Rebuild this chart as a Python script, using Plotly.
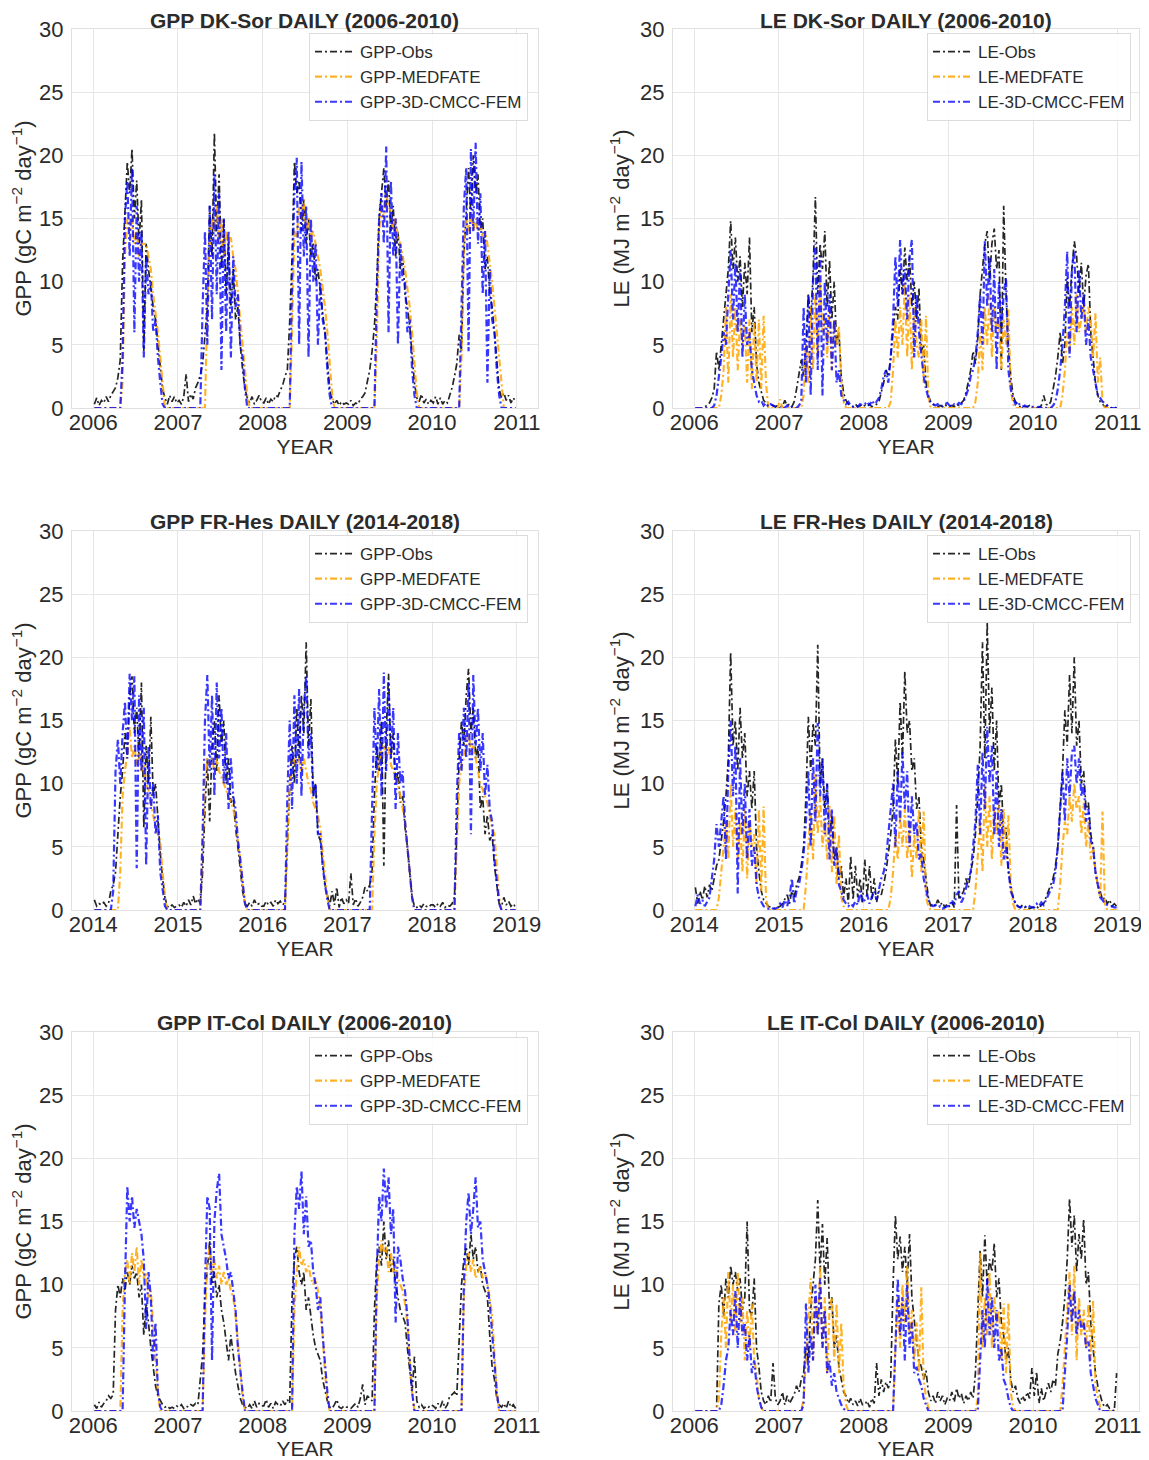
import plotly.graph_objects as go

# ---------------- DATA (10-day steps, 36 values per year) ----------------
YEARS_A = [2006, 2007, 2008, 2009, 2010, 2011]
YEARS_B = [2014, 2015, 2016, 2017, 2018, 2019]

gpp_dk_obs = [
    [0.3,0.8,0.2,0.6,0.4,0.9,0.5,1.0,1.3, 1.6,2.4,3.8, 11.5,16,19.5, 17,20.5,15, 18,13,16.5, 4.5,13,11, 9.5,8,7, 5,3.5,1.5, 0.8,0.3,1.0, 0.5,0.9,0.4],
    [0.6,0.3,0.9,2.7,0.5,1.1,0.7,1.6,2.0, 2.6,3.5,5.5, 8,16,12, 21.8,14,18.5, 11,15,9, 13,8,11, 7,8,5, 3,1.5,0.8, 0.4,0.9,0.3, 0.6,1.0,0.5],
    [0.4,0.8,0.3,0.7,0.5,1.0,0.9,1.4,1.8, 2.5,3.0,6.8, 12,19.5,17, 18,14,16.5, 13,15,12, 13,10,11, 9,7.5,6, 3.5,1.5,0.7, 0.3,0.6,0.2, 0.5,0.3,0.4],
    [0.3,0.6,0.2,0.4,0.3,0.7,0.9,1.2,2.0, 3.0,4.5,6.5, 10,15,17, 19,16,18, 14,16,12, 14,11,12, 9,8,6.5, 4,2,0.8, 0.5,1.1,0.4, 0.7,0.3,0.6],
    [0.4,0.9,0.3,0.8,0.3,0.6,0.4,1.0,1.6, 2.5,3.5,5.8, 4.5,12,16, 19,15,20, 17,18.5,14, 15,11,12, 9,8,6, 3.5,1.5,0.8, 1.2,0.6,1.0, 0.4,0.8,0.5],
]
gpp_dk_med = [
    [0,0,0,0,0,0,0,0,0,0,0,0, 2,12,15, 14,15,13, 14,12,13, 13,13,12, 11,9,7.5, 6,4,2, 0,0,0, 0,0,0],
    [0,0,0,0,0,0,0,0,0,0,0,0, 8,13,15, 14,16,13, 15,12,14, 13,13.5,12, 11,9,7.5, 5.5,3,1, 0,0,0, 0,0,0],
    [0,0,0,0,0,0,0,0,0,0,0,0, 6,14,13.5, 16,15,16.5, 14,15,13.5, 14,13,12, 11,9.5,8, 6,3.5,1.2, 0,0,0, 0,0,0],
    [0,0,0,0,0,0,0,0,0,0,0,0, 5,14,16, 15,17,16, 15.5,14,15, 13.5,13,12, 11,9.5,8, 6,3.5,1.2, 0,0,0, 0,0,0],
    [0,0,0,0,0,0,0,0,0,0,0,0, 4,13,15, 14,15.5,14, 15,14,14.5, 13.5,14,13, 11.5,10,8, 6,3.5,1.5, 0,0,0, 0,0,0],
]
gpp_dk_cmcc = [
    [0,0,0,0,0,0,0,0,0,0,0,0, 4,15,18, 12,19,6, 16,10,14, 4,12,9, 10,6,7, 4,2,0.3, 0,0,0, 0,0,0],
    [0,0,0,0,0,0,0,0,0,0,8,14, 5,16,7, 18.5,9,17, 3,15,6, 14,4,12, 8,9,5, 4,1.5,0, 0,0,0, 0,0,0],
    [0,0,0,0,0,0,0,0,0,0,0,0, 10,17,19.8, 5,19.5,12, 16,4,15, 10,13,5, 10,7,6, 3,1,0, 0,0,0, 0,0,0],
    [0,0,0,0,0,0,0,0,0,0,0,0, 9,15,17, 13,20.7,6, 18,12,15, 5,13,10, 10,6,7, 3,1,0, 0,0,0, 0,0,0],
    [0,0,0,0,0,0,0,0,0,0,0,0, 8,16,19, 4.5,20.5,14, 21,13,17, 9,14,2, 11,7,6, 3,1,0, 0,0,0, 0,0,0],
]

le_dk_obs = [
    [0,0,0,0,0.1,0.2, 0.4,0.8,1.5, 4.5,3,5, 7.5,9,11, 14.8,11,13.5, 10,12,8, 11.5,9,13.5, 6,8,3.5, 2,1.2,0.6, 0.4,0.2,0.3, 0.2,0.1,0.2],
    [0.2,0.1,0.6,0.2,0.3,0.1, 0.5,1.5,2.5, 3.8,2.5,5, 9,7,10.5, 16.7,9,13, 11,14,8, 11.7,7,10, 5,6,2.5, 1.2,0.6,0.3, 0.2,0.1,0.3, 0.1,0.2,0.1],
    [0.2,0.1,0.3,0.1,0.2,0.3, 0.5,1.2,2, 3,2.5,4, 6,8,7, 11,9,12.7, 10,12,8, 10,7,9.5, 4.5,5,2, 1,0.5,0.3, 0.2,0.1,0.2, 0.1,0.3,0.1],
    [0.1,0.2,0.1,0.3,0.2,0.4, 0.6,1.2,2, 3,4.5,3.5, 5.5,9,11, 13,14,10, 13,14.2,11, 12.5,3,16, 9,5,2.5, 1,0.5,0.3, 0.1,0.2,0.1, 0.1,0.2,0.1],
    [0,0.1,0,0.2,1,0.3, 0.2,0.5,1.5, 2.5,4,6, 3.5,5,10.3, 8,11,13.2, 12,9,11.5, 8,10.5,11.4, 6,4,2, 1,0.5,0.3, 0.1,0.2,0.1, 0,0.1,0],
]
le_dk_med = [
    [0,0,0,0,0,0,0,0,0,0,0,1, 3,8,2, 9,4,8, 3,7,5, 6.5,2,7, 1.5,6.8,2, 7,1.5,7.3, 2,0,0, 0,0,0],
    [0.7,0,0,0,0,0,0,0,0,0,1,5, 2,8,3, 9,4,10, 6,7,4, 8,3,7, 5,6.5,2, 0.5,0,0, 0,0,0, 0,0,0],
    [0,0,0,0,0,0,0,0,0,0,0,0.5, 3,7,4, 8,5,10, 4,9,3, 8,5,4, 7,2,7.3, 1,0,0, 0,0,0, 0,0,0],
    [0,0,0,0,0,0,0,0,0,0,0,0.5, 2,6,3, 8,5,9, 4,8,6, 7,3,7, 5,7.8,1.5, 0.3,0,0, 0,0,0, 0,0,0],
    [0,0,0,0,0,0,0,0,0,0,0,0, 1,3,6, 4.5,8,5, 9,6,7, 8.2,6,8, 7,4,7.5, 2,4,0.5, 0,0,0, 0,0,0],
]
le_dk_cmcc = [
    [0,0,0,0,0,0,0,0, 0.2, 1,2.5,4, 6,5,9, 12.5,7,11.5, 6,11,4, 9,5,6, 3,2,1, 0.5,0.6,0.2, 0.4,0.1,0.3, 0.2,0.1,0],
    [0,0.1,0,0.2,0,0.1,0,0, 0.2, 0.5,8,2, 9,1,10, 13,3,12, 1,10,5, 9,3,7, 2,3,1, 0.6,0.3,0.5, 0.2,0.1,0.2, 0.1,0.3,0.2],
    [0.3,0.5,0.2,0.6,0.3,0.5, 0.8,1.5,2.5, 3,2,4, 7,12,8, 13.3,9,11, 7,12,13.3, 4,9,6, 4,2.5,1.5, 0.8,0.4,0.3, 0.2,0.3,0.1, 0.2,0.3,0.4],
    [0.2,0.1,0.3,0.2,0.4,0.3, 0.5,1,1.5, 2.5,3,4, 6,9,5, 13.2,8,12, 6,11,3, 10,6,9, 10.3,3,1.5, 0.8,0.3,0.5, 0.2,0.1,0.2, 0.1,0.1,0.1],
    [0.1,0,0.1,0,0.1,0,0,0, 0.2, 0.5,1.5,3, 5,8,12.4, 4,11,12.5, 6,11,7, 9,5,7, 4,3,2, 1,0.8,0.5, 0.4,0.2,0, 0,0,0],
]

gpp_fr_obs = [
    [0.8,0.3,0.5,0.4,0.6,0.3, 0.5,1.5,2, 3,6,9, 11,14,12, 17,18.5,14, 16,12,18, 6.5,13,10, 15.3,9,10, 7,4.5,2.5, 1,0.3,0.2, 0.4,0.2,0.3],
    [0.4,0.2,0.6,0.3,0.8,0.4,1.1,0.5,0.9, 0.5,3,8, 12,7,13, 15,11,17, 13,15,10, 12,8.5,9, 6.5,5,3, 1.5,0.5,0.3, 0.6,0.3,0.8, 0.4,0.5,0.3],
    [0.3,0.7,0.4,0.6,0.3,0.8,0.5,0.7,0.4, 0.6,5,10, 13,10,16, 12,17,14, 21.2,13,16.7, 9,10,6, 5.5,3.5,2, 1.2,0.3,1.5, 0.4,1.8,0.2, 1.0,0.5,0.8],
    [0.5,2.9,0.4,0.9,0.3,0.6,1.0,1.8,1.5, 2,3,9, 13,11,15, 3.5,14,18.7, 12,14,10, 11,8.5,9, 6.5,5,3, 1,0.3,0.2, 0.4,0.2,0.5, 0.3,0.2,0.4],
    [0.4,0.2,0.5,0.3,0.6,0.2,0.4,0.3,0.5, 1,6,12, 15,13,17, 19.1,14,16, 12,13,8, 9,6,7.5, 5.5,6,3.5, 2,0.5,0.3, 1.0,0.4,0.7, 0.3,0.5,0.2],
]
gpp_fr_med = [
    [0,0,0,0,0,0,0,0,0,0,0,3, 9,11,12.5, 14.5,12,13, 11.5,12.5,11, 11.5,10,9.5, 8.5,7.5,6.5, 6,5.5,3, 1,0,0, 0,0,0],
    [0,0,0,0,0,0,0,0,0,0,5,10, 12,11.5,12, 11,12,11, 10.5,10,9.5, 9,8.5,8, 7,5.5,4, 2,0.5,0, 0,0,0, 0,0,0],
    [0,0,0,0,0,0,0,0,0,0,5,10, 11,12,11.5, 12,11,12, 11,10,9.5, 8.5,8,7.5, 6.5,4.5,2.5, 1,0,0, 0,0,0, 0,0,0],
    [0,0,0,0,0,0,0,0,0,0,0,6, 10,11.5,12.5, 13,12,13, 11.5,11,10.5, 10,9,8, 7,5,3, 1,0,0, 0,0,0, 0,0,0],
    [0,0,0,0,0,0,0,0,0,0,5,10, 11.5,12,13, 14,12.5,13, 12,11,10, 9.5,9,8.5, 7.5,6.5,6, 3.5,1,0, 0,0,0, 0,0,0],
]
gpp_fr_cmcc = [
    [0,0,0,0,0,0,0,0,1.5,11,13.5,10, 14,16.5,12, 18.7,15,18.5, 3.3,17,11, 16,3.5,13, 8,10,6, 7.5,3,1.5, 0.3,0,0, 0,0,0],
    [0,0,0,0,0,0,0,0,0,0,6,15, 18.6,11,17, 9,18,12, 16,10,14, 8,12,9, 8,5.5,4, 2,0.5,0, 0,0,0, 0,0,0],
    [0,0,0,0,0,0,0,0,0,0,9,15, 8,17,10, 17.5,9,16, 18.5,12,14, 9,10,6, 6,3.5,2, 0.8,0,0, 0,0,0, 0,0,0],
    [0,0,0,0,0,0,0,0,0,0,8,16, 11,17.5,9, 18.8,11,18, 12,16,8, 14,10,11, 7,5,3, 1,0,0, 0,0,0, 0,0,0],
    [0,0,0,0,0,0,0,0,0,0,9,14, 11,16,12, 18,6,18.6, 13,16,11, 14,9,11.5, 8,7,4, 2,0.5,0, 0,0,0, 0,0,0],
]

le_fr_obs = [
    [1.8,0.5,1.5,0.8,1.9,1.0, 2,1.5,2.5, 3.5,4,5.5, 7,9,12, 20.4,13,15, 11,16,12, 14,9,11, 8,11,5, 3,1.5,0.8, 0.5,0.3,0.2, 0.2,0.1,0.2],
    [0.3,0.5,0.8,1.2,0.5,1.5, 1,2,2.5, 3.5,5,9, 15.3,11,14.8, 13,21,10, 12,8,10, 6,7.5,4, 5,2.5,3.5, 1,2.5,0.5, 4.3,0.8,3.5, 1,2.5,0.6],
    [4,1,3.5,0.8,2.5,0.6, 1.5,1.2,2, 3,4.5,6, 8,13.5,10, 16.5,12,18.9, 14,15,11, 12,8,9, 5,4,2.5, 1,0.3,0.5, 0.3,0.8,0.4, 0.6,0.2,0.5],
    [0.3,0.6,0.2,8.3,0.8,1.2, 1.5,2.5,1.8, 3,4,6, 9,13,21.2, 12,22.8,14, 17.6,11,15, 8,10,6, 6.5,3,2, 1,0.5,0.3, 0.2,0.4,0.2, 0.3,0.1,0.2],
    [0.2,0.3,0.1,0.4,0.5,1, 1.5,2,2.5, 3.5,5,8, 11,15.8,13, 18.6,14,20, 13,15,10, 11,8,8.5, 6,5,3, 2,1.5,0.8, 1.0,0.5,0.8, 0.3,0.5,0.3],
]
le_fr_med = [
    [0,0,0,0,0,0,0,0,0,0,1,3, 5,7,4, 10,5,8, 4,7,3, 8,2.5,7, 5,6,2, 8,1.5,8.2, 1,0,0, 0,0,0],
    [0,0,0,0,0,0,0,0,0,0,0,2, 5,8,4, 10.8,6,9, 5,7,4, 8.3,3,7.5, 2,6,1, 0.3,0,0, 0,0,0, 0,0,0],
    [0,0,0,0,0,0,0,0,0,0,0,1, 3,6,4, 7.5,5,8, 4,7,2.5, 6,4,8, 3,7.8,1, 0.3,0,0, 0,0,0, 0,0,0],
    [0,0,0,0,0,0,0,0,0,0,0,1.5, 4,7,3, 10,5,9, 4,8,6, 8.5,3.5,8, 4,7.5,2, 0.5,0,0, 0,0,0, 0,0,0],
    [0,0,0,0,0,0,0,0,0,0,0,2, 5,7,6, 9,7,10, 8,9,6, 8.5,5,7, 4,5,3, 2,1,7.8, 0.5,0,0, 0,0,0],
]
le_fr_cmcc = [
    [0.3,1.2,0.5,0.8,0.3,0.6, 1,2.5,4, 6.8,5,7, 9,4,11, 15,9,13, 1.3,12,6, 10,4,8, 3.5,5,2, 1,0.6,0.3, 0.2,0.1,0.2, 0.1,0.1,0.2],
    [0.5,0.2,0.8,0.3,1,2.5, 0.5,1.5,2, 3,4.5,7, 11,5,12, 7,14.8,9, 12,6,10, 4,8,3.5, 5,2,1.5, 0.8,0.5,0.3, 0.5,0.3,0.7, 0.4,1.5,0.6],
    [0.8,1.2,0.5,1.0,1.5,0.8, 1.8,2.5,3, 4,6,8, 10,5,11, 7,12.5,8, 11,5,9, 6,7,4, 4.5,2.5,1.5, 0.8,0.5,0.3, 0.4,0.2,0.3, 0.1,0.2,0.3],
    [0.3,0.8,0.4,1.2,1.5,0.6, 1.0,1.8,2.5, 3,5,7, 11.5,6,12.5, 8,14.5,10, 13,6,11, 5,8,4, 5,3,1.5, 1,0.5,0.3, 0.2,0.3,0.2, 0.4,0.3,0.2],
    [0.2,0.5,0.3,0.6,0.4,0.8, 1.2,1.5,2, 3,5,8, 11,7,12, 9,12.5,13, 10,12,9, 10,7,8, 5.5,5,3, 2,1,0.8, 0.5,0.4,0.3, 0.3,0.2,0.2],
]

gpp_it_obs = [
    [0.5,0.2,0.7,0.3,0.6,0.8, 1.2,1.0,1.3, 8,10,9, 10.5,9.5,11, 10,11.5,10.5, 11,9,10, 6,8.5,7, 5,3.5,2, 1.2,0.8,0.5, 0.3,0.4,0.2, 0.3,0.2,0.4],
    [0.3,0.5,0.2,0.4,0.3,0.5, 0.4,0.6,0.5, 2.5,4.5,9, 11,13.5,10, 11,9,10, 8,7,5.5, 4,6,4.5, 3,2,1, 0.5,0.3,0.2, 0.5,0.2,0.8, 0.3,0.6,0.4],
    [0.4,0.9,0.3,0.6,0.2,0.7, 0.5,0.4,0.8, 0.5,0.9,0.6, 9,12,13, 11,10,11, 8,9,7.5, 6,5,4.5, 4,2.5,1.5, 0.8,0.3,0.2, 0.5,0.9,0.3, 0.2,0.4,0.3],
    [0.3,0.2,0.4,0.6,0.3,1.0, 2.1,0.5,1.2, 1.0,0.8,8, 12,13,11.5, 15,12,13.5, 11,12,10, 9,8,7.5, 7,5,3, 1.5,4.3,0.8, 0.3,0.5,0.2, 0.4,0.3,0.5],
    [0.4,0.2,0.6,0.3,0.8,0.2, 0.5,1.2,1.3, 1.5,1.2,6, 10,12,13, 11.5,14,12, 13,11,11.5, 10,9.5,9, 6,3.5,2.5, 1,0.5,0.3, 0.6,0.2,0.8, 0.3,0.5,0.2],
]
gpp_it_med = [
    [0,0,0,0,0,0,0,0,0,0,0,0, 8,11,12, 10,12.5,11, 13,10,12, 10.5,11,9, 9.5,7,4, 1.5,0,0, 0,0,0, 0,0,0],
    [0,0,0,0,0,0,0,0,0,0,0,7, 12,13,11, 12,10.5,11.5, 10,11,10, 10.5,9.5,9, 7.5,5.5,3, 1,0,0, 0,0,0, 0,0,0],
    [0,0,0,0,0,0,0,0,0,0,0,0, 0,8,11, 13,11.5,12, 11,11.5,10.5, 10,10.5,9.5, 8,6,3, 1,0,0, 0,0,0, 0,0,0],
    [0,0,0,0,0,0,0,0,0,0,0,0, 9,12,13.5, 12.5,13,11, 12.5,11,11.5, 10.5,10,9.5, 8.5,7,4, 1.5,0,0, 0,0,0, 0,0,0],
    [0,0,0,0,0,0,0,0,0,0,0,0, 0,9,11.5, 12.5,11,12, 10.5,11,11.5, 10.5,11,10, 9,7.5,4, 1.5,0,0, 0,0,0, 0,0,0],
]
gpp_it_cmcc = [
    [0,0,0,0,0,0,0,0,0,0,0,0, 0,10,17.8, 15,17,14.5, 16,15,14, 12,6.5,11, 9,4,7, 1.5,0.3,0, 0,0,0, 0,0,0],
    [0,0,0,0,0,0,0,0,0,0,0,10, 17,16,4, 15,17.5,18.8, 14,13,12, 10.5,11,9.5, 8,5,3, 1.5,0,0, 0,0,0, 0,0,0],
    [0,0,0,0,0,0,0,0,0,0,0,0, 0,14,17.8, 16,19,14, 17,13,13.5, 11,10,8, 9,6,3.5, 1.5,0,0, 0,0,0, 0,0,0],
    [0,0,0,0,0,0,0,0,0,0,0,0, 11,17,15, 19.2,16,18.5, 14,16,7, 13,12,10.5, 9.5,7.5,4, 1.5,0,0, 0,0,0, 0,0,0],
    [0,0,0,0,0,0,0,0,0,0,0,0, 0,10,15, 17.3,14,16, 18.5,14.5,15, 12,11,10, 8.5,6,4, 1.5,0,0, 0,0,0, 0,0,0],
]

le_it_obs = [
    [0,0,0,0,0,0, 0,0,0, 0,8.5,10, 7.5,10.5,9, 11.5,10,11, 9.5,10.5,8, 9,15,8, 7.5,10.5,5, 3.5,1.5,0.8, 0.5,1.2,0.7, 3.8,1.0,0.5],
    [0.8,1.5,0.5,1.2,0.6,1.0, 1.3,2,1.5, 2.5,3,5, 4,8,10, 12,16.7,11, 14.8,10,13.7, 8,9,5, 6,3.5,2.5, 1.5,1.2,0.6, 1.0,0.5,0.8, 0.4,1.0,0.5],
    [0.5,0.8,0.3,1.0,0.6,3.8, 1.2,2.5,1.5, 2.3,1.8,2.5, 10,15.5,12, 13.8,11,13, 10,14,9, 7,5.5,4, 3.5,2.5,3.2, 1.5,0.8,1.2, 0.6,1.5,0.8, 1.2,0.5,1.0],
    [0.8,1.5,0.7,1.8,1.0,1.4, 0.6,1.2,0.8, 1.5,1.0,3, 8,12.7,9, 13.9,10,12, 11,13.3,9, 10.5,7,6, 4,5,2.5, 1.5,2,1, 0.6,1.2,0.8, 1.5,1.0,3.4],
    [1.2,3.1,0.6,1.8,0.8,1.5, 2.2,1.5,2.5, 2,4.5,5.5, 7,9,12, 16.8,13,15.5, 11,14,12, 15.2,10,11, 7,5,3, 2,1.2,0.6, 0.3,0.5,0.2, 0.1,0,3.0],
]
le_it_med = [
    [0,0,0,0,0,0,0,0,0,0,1,6, 9,5,11, 7,10,6, 11,7,9, 4,8,5, 8.5,4,3, 1,0.3,0, 0,0,0, 0,0,0],
    [0,0,0,0,0,0,0,0,0,0,1,4, 7,10.5,4, 9,6,11.5, 5,9,3, 8,9,4, 8.5,3,7, 2,0.5,0, 0,0,0, 0,0,0],
    [0,0,0,0,0,0,0,0,0,0,0,0, 0,5,9, 5,10,7, 11.5,6,8, 4,7,3, 9.8,2.5,1, 0.3,0,0, 0,0,0, 0,0,0],
    [0,0,0,0,0,0,0,0,0,0,0,0, 1,12.5,5, 9,6,11, 5,9,7, 8,4,8.5, 3,8.5,1.5, 0.3,0,0, 0,0,0, 0,0,0],
    [0,0,0,0,0,0,0,0,0,0,0,0, 2,5,8, 11,6,11.5, 4,9,6, 8,5,8.5, 4,8.7,2, 1,0.3,0, 0,0,0, 0,0,0],
]
le_it_cmcc = [
    [0,0,0,0,0,0,0,0,0,0,0,0.5, 2,4,5, 8,6,9.5, 5,9,6, 7,4,6, 3,4,2, 1,0.3,0, 0,0,0, 0,0,0],
    [0,0,0,0,0,0,0,0,0,0,0.5,8.5, 3,6,4, 10,6,10.5, 5,8,3, 4,2,3, 1.5,1,0.5, 0.2,0,0, 0,0,0, 0,0,0],
    [0,0,0,0,0,0,0,0,0,0,0,0, 0,5,10.5, 6,9,4, 10,5,7, 3,3.5,2.5, 2,1,0.5, 0,0,0, 0,0,0, 0,0,0],
    [0,0,0,0,0,0,0,0,0,0,0,0, 0,4,8, 5,10.5,6, 9,5,8, 4,5,2.5, 2,1,0.3, 0,0,0, 0,0,0, 0,0,0],
    [0,0,0,0,0,0,0,0,0,0,0,0, 0,3,6, 10,7,9.5, 6,8,6.5, 7,5,5.5, 3,2,1, 0.5,0,0, 0,0,0, 0,0,0],
]

SERIES_NAMES = ["Obs", "MEDFATE", "3D-CMCC-FEM"]
COLORS = ["black", "orange", "blue"]
OPACITY = [0.85, 0.85, 0.78]
WIDTHS = [1.7, 2.1, 2.2]

# ---------------- LAYOUT ----------------
# page body has an 8px margin: positions below are reference pixels minus that offset
OFF = 8
W, H = 1149 - OFF, 1460 - OFF
COL_X = [(72, 538), (673, 1139)]
ROW_Y = [(29, 408), (531, 910), (1032, 1411)]
LEG_RIGHT = [528, 1131]
LEG_TOP = [33, 535, 1037]
TITLE_TOP = [8, 509, 1010]

panels = [
    ("GPP DK-Sor DAILY (2006-2010)", "GPP", YEARS_A, (gpp_dk_obs, gpp_dk_med, gpp_dk_cmcc)),
    ("LE DK-Sor DAILY (2006-2010)", "LE", YEARS_A, (le_dk_obs, le_dk_med, le_dk_cmcc)),
    ("GPP FR-Hes DAILY (2014-2018)", "GPP", YEARS_B, (gpp_fr_obs, gpp_fr_med, gpp_fr_cmcc)),
    ("LE FR-Hes DAILY (2014-2018)", "LE", YEARS_B, (le_fr_obs, le_fr_med, le_fr_cmcc)),
    ("GPP IT-Col DAILY (2006-2010)", "GPP", YEARS_A, (gpp_it_obs, gpp_it_med, gpp_it_cmcc)),
    ("LE IT-Col DAILY (2006-2010)", "LE", YEARS_A, (le_it_obs, le_it_med, le_it_cmcc)),
]

FONT = "Liberation Sans, Arial, Helvetica, sans-serif"
TXT = "#2b2b2b"


def px_x(v):
    return (v - OFF) / W


def px_y(v):
    return 1 - (v - OFF) / H


fig = go.Figure()
annotations = []
layout_updates = {}

for i, (title, var, years, series) in enumerate(panels):
    n = i + 1
    row, col = divmod(i, 2)
    xa = "x" if n == 1 else f"x{n}"
    ya = "y" if n == 1 else f"y{n}"
    leg = "legend" if n == 1 else f"legend{n}"

    start = years[0]
    xs = [start + yi + (k + 0.5) / 36 for yi in range(5) for k in range(36)]

    for s_idx, data in enumerate(series):
        for yr in data:
            if len(yr) != 36:
                raise ValueError(f"{title} series {s_idx}: year has {len(yr)} values")
        vals = [v for yr in data for v in yr]
        fig.add_trace(go.Scatter(
            x=xs, y=vals, mode="lines",
            name=f"{var}-{SERIES_NAMES[s_idx]}",
            line=dict(color=COLORS[s_idx], width=WIDTHS[s_idx], dash="7px,3px,2px,3px"),
            opacity=OPACITY[s_idx],
            xaxis=xa, yaxis=ya, legend=leg, showlegend=True,
        ))

    x0, x1 = COL_X[col]
    y0, y1 = ROW_Y[row]
    unit = "gC" if var == "GPP" else "MJ"
    ytitle = f"{var} ({unit} m<sup>\u22122</sup> day<sup>\u22121</sup>)"

    layout_updates["xaxis" if n == 1 else f"xaxis{n}"] = dict(
        domain=[px_x(x0), px_x(x1)], anchor=ya,
        range=[years[0] - 0.25, years[-1] + 0.25],
        tickmode="array", tickvals=years, ticktext=[str(v) for v in years],
        showgrid=True, gridcolor="#e6e6e6", gridwidth=1,
        showline=True, linecolor="#e0e0e0", linewidth=1, mirror=True,
        zeroline=False, ticks="", automargin=False, ticklabelstandoff=-5,
        tickfont=dict(size=22, color=TXT, family=FONT),
        title=dict(text="YEAR", font=dict(size=21, color=TXT, family=FONT), standoff=0),
    )
    layout_updates["yaxis" if n == 1 else f"yaxis{n}"] = dict(
        domain=[px_y(y1), px_y(y0)], anchor=xa,
        range=[0, 30], tickmode="array", tickvals=[0, 5, 10, 15, 20, 25, 30],
        showgrid=True, gridcolor="#e6e6e6", gridwidth=1,
        showline=True, linecolor="#e0e0e0", linewidth=1, mirror=True,
        zeroline=False, ticks="", automargin=False, ticklabelstandoff=3,
        tickfont=dict(size=22, color=TXT, family=FONT),
        title=dict(text=ytitle, font=dict(size=22, color=TXT, family=FONT), standoff=4),
    )
    layout_updates[leg] = dict(
        x=px_x(LEG_RIGHT[col]), y=px_y(LEG_TOP[row]),
        xanchor="right", yanchor="top",
        bgcolor="rgba(255,255,255,0.85)", bordercolor="#dcdcdc", borderwidth=1,
        font=dict(size=17, color=TXT, family=FONT),
        itemwidth=40, tracegroupgap=0,
    )
    annotations.append(dict(
        text=f"<b>{title}</b>", xref="paper", yref="paper",
        x=px_x((x0 + x1) / 2), y=px_y(TITLE_TOP[row]),
        xanchor="center", yanchor="top", showarrow=False, borderpad=0,
        font=dict(size=21, color=TXT, family=FONT),
    ))

fig.update_layout(
    width=W, height=H,
    margin=dict(l=0, r=0, t=0, b=0),
    paper_bgcolor="white", plot_bgcolor="white",
    font=dict(family=FONT, color=TXT),
    annotations=annotations,
    template="none",
    **layout_updates,
)

fig.write_html("out.html")
